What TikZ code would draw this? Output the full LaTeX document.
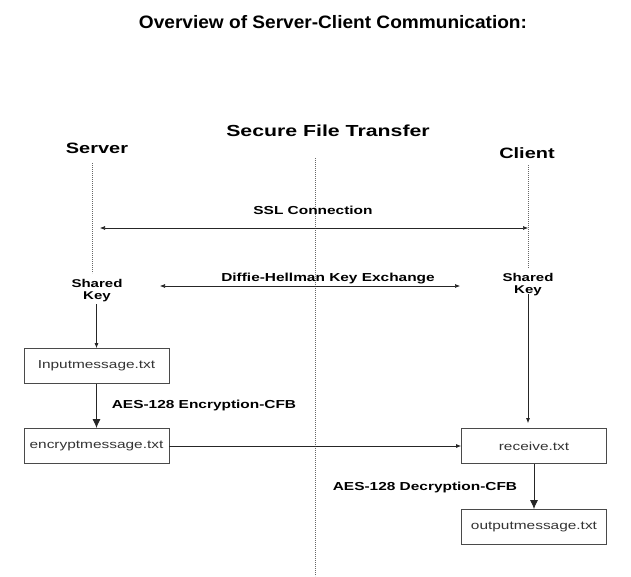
\documentclass[tikz,border=0pt]{standalone}
\usepackage{fontspec}
\setmainfont{Liberation Sans}[FakeStretch=1.33]
\newfontfamily\titlefont{Liberation Sans}[FakeStretch=1.06]
\usetikzlibrary{arrows.meta}
\definecolor{boxgray}{HTML}{4A4A4A}
\definecolor{txtgray}{HTML}{333333}
\tikzset{
  box/.style={draw=boxgray, line width=0.8pt, minimum width=145pt, minimum height=35pt, inner sep=0pt, font=\fontsize{11.6}{13}\selectfont, text=txtgray},
  lbl/.style={font=\bfseries\fontsize{11.6}{13}\selectfont, inner sep=0pt},
  keylbl/.style={font=\bfseries\fontsize{11.3}{12}\selectfont, inner sep=0pt, align=center},
  actor/.style={font=\bfseries\fontsize{15}{17}\selectfont, inner sep=0pt},
  life/.style={draw=black!60, line width=0.6pt, dash pattern=on 0.8pt off 1.2pt},
  msg/.style={draw=black!85, line width=0.6pt, {Latex[length=5pt,width=4pt]}-{Latex[length=5pt,width=4pt]}},
  flow/.style={draw=black!85, line width=0.7pt, -{Latex[length=5pt,width=4pt]}},
  bigflow/.style={draw=black!85, line width=0.9pt, -{Latex[length=9pt,width=8pt]}},
}
\begin{document}
\begin{tikzpicture}[x=1pt,y=-1pt]
\useasboundingbox (0,0) rectangle (631,576);
\node[font=\titlefont\bfseries\fontsize{18}{20}\selectfont, inner sep=0pt] (title) at (333,22) {Overview of Server-Client Communication:};
\node[actor, font=\bfseries\fontsize{16}{18}\selectfont] (sft) at (328,131) {Secure File Transfer};
\node[actor] (server) at (97,148) {Server};
\node[actor] (client) at (527,153) {Client};
% lifelines
\coordinate (s1) at (92,163); \coordinate (s2) at (92,273);
\coordinate (c1) at (528,165); \coordinate (c2) at (528,268);
\coordinate (m1) at (315,158); \coordinate (m2) at (315,576);
\draw[life] (s1) -- (s2);
\draw[life] (c1) -- (c2);
\draw[life] (m1) -- (m2);
% SSL
\node[lbl] (ssl) at (313,210) {SSL Connection};
\coordinate (sslL) at (100,228); \coordinate (sslR) at (528,228);
\draw[msg] (sslL) -- (sslR);
% shared keys
\node[keylbl] (skL) at (97,291) {Shared\\Key};
\node[keylbl] (skR) at (528,285) {Shared\\Key};
\node[lbl] (dh) at (328,279) {Diffie-Hellman Key Exchange};
\coordinate (dhL) at (160,286); \coordinate (dhR) at (460,286);
\draw[msg] (dhL) -- (dhR);
% boxes
\node[box] (in) at (96.5,366) {Inputmessage.txt};
\node[box] (enc) at (96.5,446) {encryptmessage.txt};
\node[box] (rec) at (534,446) {receive.txt};
\node[box] (out) at (534,527) {outputmessage.txt};
\node[lbl] (aesE) at (204,405) {AES-128 Encryption-CFB};
\node[lbl] (aesD) at (425,487) {AES-128 Decryption-CFB};
% arrows
\draw[flow] (skL.south -| in.north) ++(0,2) -- (in.north);
\draw[bigflow] (in.south) -- (enc.north);
\draw[flow] (enc.east) -- (rec.west);
\draw[flow, shorten >=5pt] ([yshift=2pt]skR.south) -- (skR.south |- rec.north);
\draw[bigflow] (rec.south) -- (out.north);
\end{tikzpicture}
\end{document}
